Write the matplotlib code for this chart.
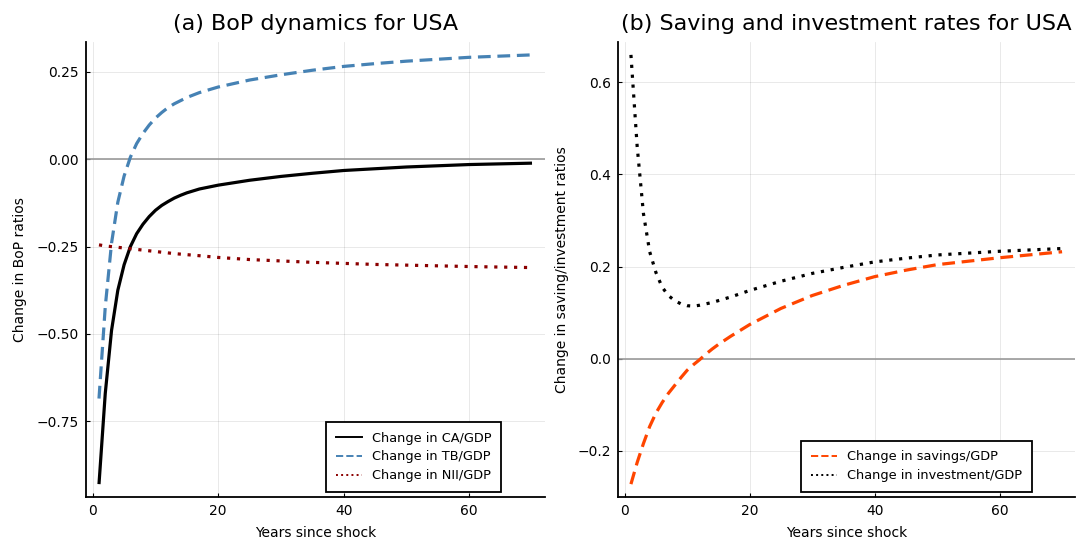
import matplotlib
matplotlib.use("Agg")
import matplotlib.pyplot as plt
from matplotlib.lines import Line2D

years = [1, 2, 3, 4, 5, 6, 7, 8, 9, 10, 11, 12, 13, 14, 15, 17, 20, 25, 30, 35,
         40, 45, 50, 60, 70]

# panel (a): BoP ratios
ca_gdp = [-0.93, -0.67, -0.49, -0.375, -0.302, -0.25, -0.213, -0.186, -0.164, -0.146,
          -0.132, -0.121, -0.111, -0.103, -0.096, -0.085, -0.074, -0.06, -0.049, -0.04,
          -0.032, -0.027, -0.022, -0.015, -0.011]
tb_gdp = [-0.685, -0.422, -0.24, -0.123, -0.048, 0.006, 0.045, 0.074, 0.098, 0.118,
          0.134, 0.148, 0.159, 0.168, 0.177, 0.191, 0.207, 0.227, 0.242, 0.255,
          0.266, 0.274, 0.281, 0.292, 0.299]
nii_gdp = [-0.245, -0.248, -0.25, -0.252, -0.254, -0.256, -0.258, -0.26, -0.262, -0.264,
           -0.266, -0.268, -0.27, -0.2715, -0.273, -0.276, -0.281, -0.287, -0.291, -0.295,
           -0.298, -0.301, -0.303, -0.307, -0.31]

# panel (b): saving and investment
savings_gdp = [-0.272, -0.225, -0.184, -0.147, -0.118, -0.095, -0.075, -0.058, -0.041, -0.025,
               -0.013, -0.002, 0.01, 0.021, 0.031, 0.049, 0.074, 0.109, 0.137, 0.159,
               0.178, 0.192, 0.204, 0.219, 0.232]
invest_gdp = [0.659, 0.46, 0.315, 0.232, 0.187, 0.155, 0.137, 0.126, 0.119, 0.115,
              0.114, 0.116, 0.119, 0.122, 0.126, 0.134, 0.148, 0.168, 0.185, 0.198,
              0.21, 0.218, 0.225, 0.233, 0.239]

left_yticks = [0.25, 0.0, -0.25, -0.5, -0.75]
right_yticks = [0.6, 0.4, 0.2, 0.0, -0.2]
xticks = [0, 20, 40, 60]

W, H = 1076, 539
fig = plt.figure(figsize=(W / 100, H / 100), dpi=100)
plt.rcParams['font.family'] = ['DejaVu Sans']

DASH = (4, 2.1)
DOT = (1, 2.1)


def px_axes(x0, x1, y0, y1):
    return fig.add_axes([x0 / W, 1 - y1 / H, (x1 - x0) / W, (y1 - y0) / H])


def style(ax):
    for s in ('top', 'right'):
        ax.spines[s].set_visible(False)
    for s in ('left', 'bottom'):
        ax.spines[s].set_linewidth(1.3)
    ax.tick_params(direction='in', length=3, width=0.8, labelsize=10, pad=5)
    ax.grid(True, color='black', alpha=0.1, linewidth=0.6)
    ax.set_axisbelow(True)
    ax.axhline(0, color='#9a9a9a', linewidth=1.2, zorder=1)
    ax.set_xticks(xticks)
    ax.set_xlabel("Years since shock", fontsize=10, labelpad=6)


def pad_limits(ax, series):
    lo = min(min(s) for s in series)
    hi = max(max(s) for s in series)
    m = 0.03 * (hi - lo)
    ax.set_ylim(lo - m, hi + m)
    xm = 0.03 * (years[-1] - years[0])
    ax.set_xlim(years[0] - xm, years[-1] + xm)


def add_legend(ax, handles, labels, x):
    leg = ax.legend(handles, labels, loc='lower right', bbox_to_anchor=(x, 0.011),
                    borderaxespad=0, fontsize=9.3, fancybox=False, framealpha=1,
                    edgecolor='black', labelspacing=0.45, borderpad=0.75,
                    handletextpad=0.8)
    leg.get_frame().set_linewidth(1.3)


# ---- panel (a)
ax1 = px_axes(86, 545, 42, 497)
style(ax1)
ax1.plot(years, ca_gdp, color='black', lw=2.3, solid_capstyle='butt', solid_joinstyle='round')
ax1.plot(years, tb_gdp, color='steelblue', lw=2.3, dashes=DASH)
ax1.plot(years, nii_gdp, color='darkred', lw=2.3, dashes=DOT)
pad_limits(ax1, [ca_gdp, tb_gdp, nii_gdp])
ax1.set_yticks(left_yticks)
ax1.set_yticklabels([f"{v:.2f}".replace('-', '\u2212') for v in left_yticks])
ax1.set_ylabel("Change in BoP ratios", fontsize=10, labelpad=7)
ax1.set_title("(a) BoP dynamics for USA", fontsize=16, pad=9)
h1 = [Line2D([], [], color='black', lw=1.4),
      Line2D([], [], color='steelblue', lw=1.4, ls='--'),
      Line2D([], [], color='darkred', lw=1.4, ls=':')]
add_legend(ax1, h1, ["Change in CA/GDP", "Change in TB/GDP", "Change in NII/GDP"], 0.905)

# ---- panel (b)
ax2 = px_axes(618, 1075, 42, 497)
style(ax2)
ax2.plot(years, savings_gdp, color='orangered', lw=2.3, dashes=DASH)
ax2.plot(years, invest_gdp, color='black', lw=2.3, dashes=DOT)
pad_limits(ax2, [savings_gdp, invest_gdp])
ax2.set_yticks(right_yticks)
ax2.set_yticklabels([f"{v:.1f}".replace('-', '\u2212') for v in right_yticks])
ax2.set_ylabel("Change in saving/investment ratios", fontsize=10, labelpad=6)
ax2.set_title("(b) Saving and investment rates for USA", fontsize=16, pad=9)
h2 = [Line2D([], [], color='orangered', lw=1.4, ls='--'),
      Line2D([], [], color='black', lw=1.4, ls=':')]
add_legend(ax2, h2, ["Change in savings/GDP", "Change in investment/GDP"], 0.906)

fig.savefig("out.png", dpi=100)
